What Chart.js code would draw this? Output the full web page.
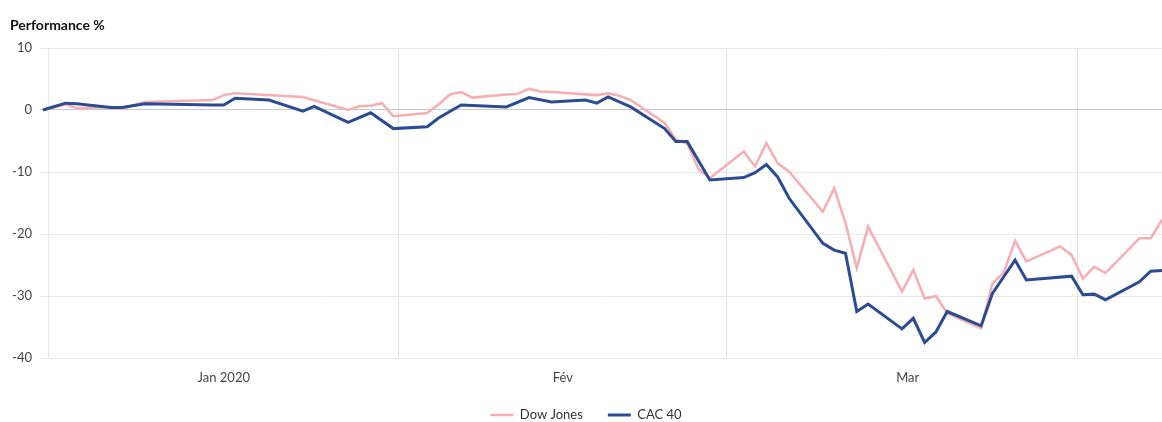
<!DOCTYPE html>
<html>
<head>
<meta charset="utf-8">
<script src="https://cdn.jsdelivr.net/npm/chart.js@4.4.1/dist/chart.umd.min.js"></script>
<style>
  html, body { margin: 0; padding: 0; background: #fff; }
  #wrap { width: 1162px; height: 422px; position: relative; }
</style>
</head>
<body>
<div id="wrap"><canvas id="c"></canvas></div>
<script>
// ---------- data ----------
const seriesNames = ['Dow Jones', 'CAC 40'];

const dowDates = [
  '2019-12-31','2020-01-02','2020-01-03','2020-01-06','2020-01-07','2020-01-09','2020-01-15','2020-01-16','2020-01-17',
  '2020-01-21','2020-01-23','2020-01-27','2020-01-28','2020-01-29','2020-01-30','2020-01-31',
  '2020-02-03','2020-02-04','2020-02-05','2020-02-06','2020-02-07','2020-02-10','2020-02-11','2020-02-12','2020-02-13',
  '2020-02-14','2020-02-18','2020-02-19','2020-02-20','2020-02-21','2020-02-24','2020-02-25','2020-02-26','2020-02-27','2020-02-28',
  '2020-03-02','2020-03-03','2020-03-04','2020-03-05','2020-03-06','2020-03-09','2020-03-10','2020-03-11','2020-03-12','2020-03-13',
  '2020-03-16','2020-03-17','2020-03-18','2020-03-19','2020-03-20','2020-03-23','2020-03-24','2020-03-25','2020-03-26','2020-03-27',
  '2020-03-30','2020-03-31','2020-04-01','2020-04-02','2020-04-03','2020-04-06','2020-04-07','2020-04-08'
];
const dowValues = [
  0, 0.9, 0.3, 0.5, 0.2, 1.3, 1.6, 2.4, 2.7,
  2.3, 2.1, 0.0, 0.6, 0.7, 1.1, -1.0,
  -0.5, 0.9, 2.5, 2.9, 2.0, 2.5, 2.6, 3.4, 3.0,
  2.9, 2.4, 2.7, 2.3, 1.6, -2.1, -4.8, -5.4, -9.5, -11.0,
  -6.7, -9.1, -5.3, -8.6, -9.9, -16.4, -12.6, -18.2, -25.5, -18.8,
  -29.3, -25.8, -30.4, -30.0, -32.8, -35.2, -28.0, -26.2, -21.1, -24.4,
  -22.0, -23.4, -27.2, -25.3, -26.3, -20.7, -20.7, -17.7
];

const cacDates = [
  '2019-12-31','2020-01-02','2020-01-03','2020-01-06','2020-01-07','2020-01-09','2020-01-15','2020-01-16','2020-01-17',
  '2020-01-20','2020-01-23','2020-01-24','2020-01-27','2020-01-29','2020-01-31',
  '2020-02-03','2020-02-04','2020-02-06','2020-02-10','2020-02-12','2020-02-14','2020-02-17','2020-02-18','2020-02-19',
  '2020-02-21','2020-02-24','2020-02-25','2020-02-26','2020-02-28',
  '2020-03-02','2020-03-03','2020-03-04','2020-03-05','2020-03-06','2020-03-09','2020-03-10','2020-03-11','2020-03-12','2020-03-13',
  '2020-03-16','2020-03-17','2020-03-18','2020-03-19','2020-03-20','2020-03-23','2020-03-24','2020-03-25','2020-03-26','2020-03-27',
  '2020-03-31','2020-04-01','2020-04-02','2020-04-03','2020-04-06','2020-04-07','2020-04-08'
];
const cacValues = [
  0, 1.1, 1.0, 0.4, 0.4, 1.0, 0.8, 0.8, 1.9,
  1.6, -0.2, 0.6, -2.0, -0.45, -3.0,
  -2.7, -1.3, 0.8, 0.5, 2.0, 1.3, 1.6, 1.1, 2.1,
  0.5, -3.0, -5.1, -5.1, -11.3,
  -10.9, -10.1, -8.8, -10.8, -14.2, -21.5, -22.6, -23.1, -32.5, -31.3,
  -35.3, -33.6, -37.5, -35.8, -32.5, -34.8, -29.6, -26.9, -24.2, -27.4,
  -26.8, -29.8, -29.7, -30.6, -27.7, -26.0, -25.9
];

// x axis: days counted from 1 Jan 2020
const monthLabels = ['Jan 2020', 'Fév', 'Mar'];
const monthLabelDays = [15, 45, 75.5];
const monthBoundaryDays = [30.5, 59.5, 90.5];

// ---------- helpers ----------
const DAY0 = Date.UTC(2020, 0, 1);
function dayIndex(s) { return Math.round((Date.parse(s + 'T00:00:00Z') - DAY0) / 86400000); }
function toPoints(dates, values) { return dates.map((d, i) => ({ x: dayIndex(d), y: values[i] })); }

const PINK = '#f8adb2';
const BLUE = '#2b4c92';

Chart.defaults.font.family = 'Lato, "Open Sans", sans-serif';

new Chart(document.getElementById('c'), {
  type: 'line',
  data: {
    datasets: [
      { label: seriesNames[0], data: toPoints(dowDates, dowValues), borderColor: PINK, backgroundColor: PINK,
        borderWidth: 2.5, pointRadius: 0, tension: 0, order: 1, clip: false },
      { label: seriesNames[1], data: toPoints(cacDates, cacValues), borderColor: BLUE, backgroundColor: BLUE,
        borderWidth: 3, pointRadius: 0, tension: 0, order: 0, clip: false }
    ]
  },
  options: {
    responsive: true,
    maintainAspectRatio: false,
    animation: false,
    layout: { padding: { left: 10, right: 0, top: 0, bottom: -9.5 } },
    plugins: {
      title: {
        display: true, text: 'Performance %', align: 'start', color: '#111',
        font: { size: 14, weight: 'bold' }, padding: { top: 17, bottom: 14.2 }
      },
      legend: {
        position: 'bottom',
        labels: {
          usePointStyle: true, pointStyle: 'line', pointStyleWidth: 23, padding: 25,
          color: '#333', font: { size: 13 },
          sort: (a, b) => a.datasetIndex - b.datasetIndex
        }
      },
      tooltip: { enabled: false }
    },
    scales: {
      x: {
        type: 'linear', min: -0.55, max: 98,
        afterBuildTicks: (s) => {
          s.ticks = monthLabelDays.concat(monthBoundaryDays).sort((a, b) => a - b).map(v => ({ value: v }));
        },
        afterFit: (s) => { s.height = 25.5; },
        ticks: {
          autoSkip: false, maxRotation: 0, padding: 12, color: '#444', font: { size: 13 },
          callback: (v) => { const i = monthLabelDays.indexOf(v); return i >= 0 ? monthLabels[i] : ''; }
        },
        grid: {
          drawTicks: false, lineWidth: 1,
          color: (c) => (c.tick && monthBoundaryDays.includes(c.tick.value)) ? '#e0e0e0' : 'rgba(0,0,0,0)'
        },
        border: { display: false }
      },
      y: {
        min: -40, max: 10,
        afterFit: (s) => { s.width = 38; },
        ticks: { stepSize: 10, padding: 8, color: '#444', font: { size: 13 } },
        grid: {
          drawTicks: true, tickLength: 8,
          color: (c) => (c.tick && c.tick.value === 0) ? '#c8c8c8' : '#e8e8e8'
        },
        border: { display: true, color: '#e8e8e8' }
      }
    }
  }
});
</script>
</body>
</html>
